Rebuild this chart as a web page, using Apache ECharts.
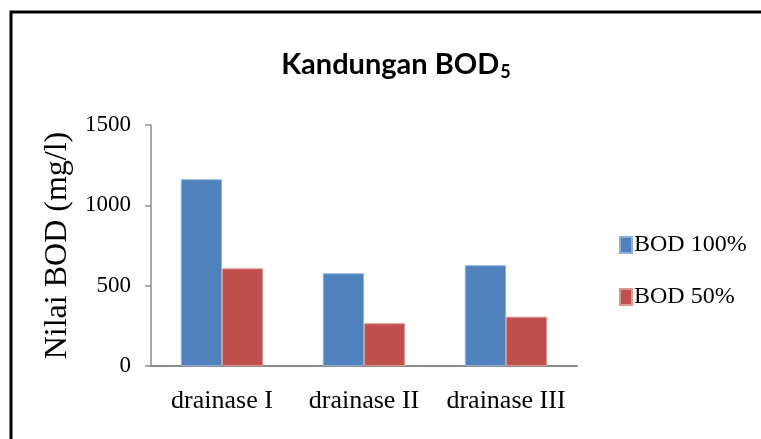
<!DOCTYPE html>
<html>
<head>
<meta charset="utf-8">
<script src="https://cdn.jsdelivr.net/npm/echarts@6/dist/echarts.min.js"></script>
<style>
html, body { margin: 0; padding: 0; background: #fff; }
#chart { width: 761px; height: 439px; }
</style>
</head>
<body>
<div id="chart"></div>
<script>
var categories = ['drainase I', 'drainase II', 'drainase III'];
var bod100 = [1162, 577, 627];
var bod50 = [608, 266, 307];
var yTicks = [0, 500, 1000, 1500];

var serif = '"Liberation Serif", "Times New Roman", serif';
var myChart = echarts.init(document.getElementById('chart'));
var option = {
	backgroundColor: '#fff',
	animation: false,
	title: {
		text: '{a|Kandungan BOD}{b|5}',
		left: 391,
		textAlign: 'center',
		top: 44,
		textStyle: {
			rich: {
				a: { fontFamily: 'Lato', fontWeight: 'bold', fontSize: 29, color: '#000' },
				b: { fontFamily: 'Lato', fontWeight: 'bold', fontSize: 18, color: '#000', padding: [14, 0, 0, 1] }
			}
		}
	},
	legend: {
		orient: 'vertical',
		left: 614,
		top: 228,
		itemWidth: 12,
		itemHeight: 16,
		itemGap: 28,
		icon: 'rect',
		textStyle: { fontFamily: serif, fontSize: 24, color: '#000', padding: [0, 0, 0, -3] },
		data: ['BOD 100%', 'BOD 50%']
	},
	grid: { left: 151, right: 184, top: 125, bottom: 73 },
	xAxis: {
		type: 'category',
		data: categories,
		axisLine: { lineStyle: { color: '#8c8c8c', width: 2 } },
		axisTick: { show: false },
		axisLabel: { fontFamily: serif, fontSize: 26, color: '#000', margin: 22, interval: 0 }
	},
	yAxis: {
		type: 'value',
		min: yTicks[0],
		max: yTicks[yTicks.length - 1],
		interval: 500,
		name: 'Nilai BOD (mg/l)',
		nameLocation: 'middle',
		nameGap: 77,
		nameTextStyle: { fontFamily: serif, fontSize: 32, color: '#000' },
		splitLine: { show: false },
		axisLine: { show: true, lineStyle: { color: '#8c8c8c', width: 1.5 } },
		axisTick: { show: true, length: 6, lineStyle: { color: '#8c8c8c', width: 1.5 } },
		axisLabel: {
			fontFamily: serif, fontSize: 23, color: '#000', margin: 20,
			formatter: function (v) { return String(v); }
		}
	},
	series: [
		{
			name: 'BOD 100%',
			type: 'bar',
			data: bod100,
			barGap: '0%',
			barCategoryGap: '42%',
			itemStyle: { color: '#4F81BD', borderColor: '#8fb0dc', borderWidth: 1 }
		},
		{
			name: 'BOD 50%',
			type: 'bar',
			data: bod50,
			itemStyle: { color: '#C0504D', borderColor: '#dc9694', borderWidth: 1 }
		}
	],
	graphic: [
		{
			type: 'rect',
			shape: { x: 11, y: 12, width: 800, height: 500 },
			style: { fill: null, stroke: '#000', lineWidth: 3 },
			silent: true
		}
	]
};
myChart.setOption(option);
</script>
</body>
</html>
